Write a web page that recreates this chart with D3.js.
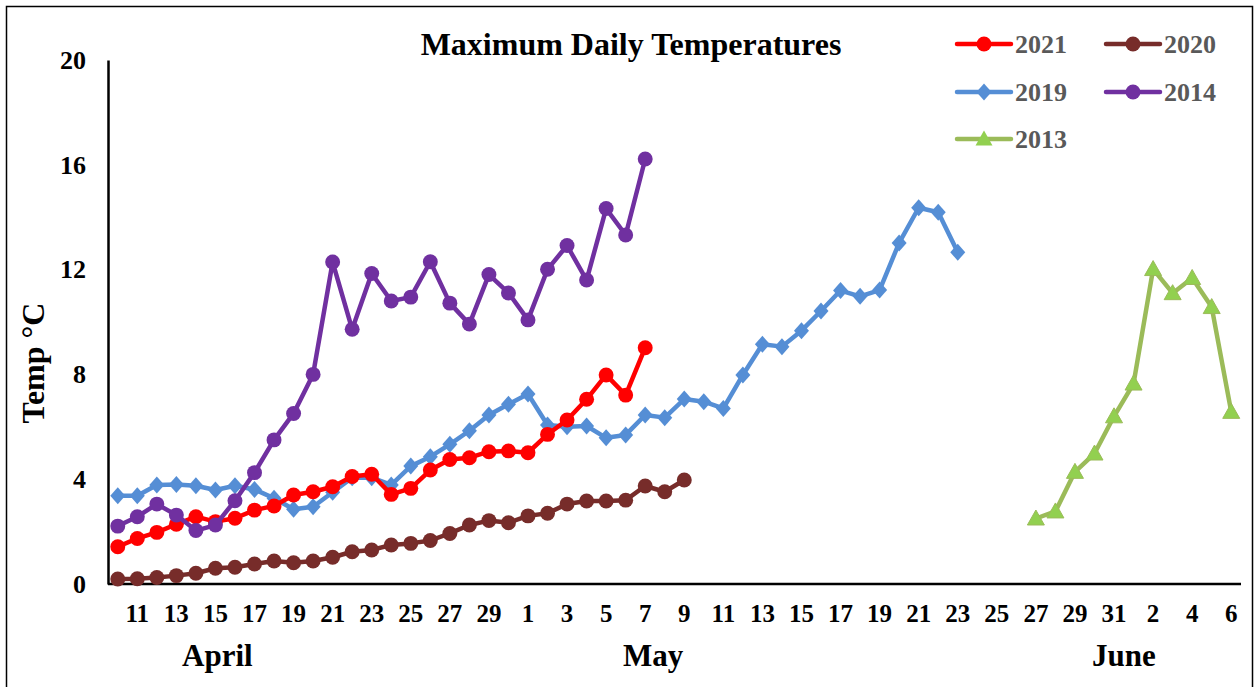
<!DOCTYPE html>
<html><head><meta charset="utf-8">
<script src="https://cdn.jsdelivr.net/npm/d3@7"></script>
<style>body{margin:0;background:#fff}svg{display:block}</style>
</head><body>
<svg id="c" width="1255" height="687"></svg>
<script>
// Categories: April 10 .. June 6
const days = [];
for (let d = 10; d <= 30; d++) days.push("Apr " + d);
for (let d = 1; d <= 31; d++) days.push("May " + d);
for (let d = 1; d <= 6; d++) days.push("Jun " + d);

const start2021 = "Apr 10";
const vals2021 = [1.42,1.74,1.97,2.28,2.57,2.38,2.51,2.82,2.98,3.40,3.52,3.71,4.10,4.19,3.42,3.65,4.35,4.75,4.82,5.05,5.08,5.01,5.71,6.26,7.05,7.98,7.21,9.02];
const start2020 = "Apr 10";
const vals2020 = [0.19,0.20,0.25,0.32,0.41,0.60,0.64,0.76,0.88,0.81,0.88,1.02,1.23,1.30,1.49,1.55,1.66,1.93,2.25,2.42,2.34,2.60,2.70,3.05,3.17,3.17,3.20,3.74,3.52,3.97];
const start2019 = "Apr 10";
const vals2019 = [3.37,3.37,3.78,3.80,3.75,3.59,3.75,3.61,3.27,2.85,2.95,3.50,4.06,4.06,3.78,4.50,4.86,5.33,5.85,6.45,6.86,7.25,6.07,6.00,6.03,5.58,5.69,6.45,6.35,7.06,6.96,6.70,7.98,9.15,9.06,9.67,10.42,11.20,10.98,11.22,13.02,14.36,14.19,12.66];
const start2014 = "Apr 10";
const vals2014 = [2.21,2.57,3.05,2.63,2.04,2.25,3.18,4.25,5.50,6.51,8.00,12.29,9.72,11.85,10.80,10.95,12.30,10.72,9.92,11.81,11.11,10.08,12.01,12.92,11.60,14.33,13.32,16.22];
const start2013 = "May 27";
const vals2013 = [2.50,2.77,4.28,4.98,6.40,7.65,12.02,11.10,11.68,10.57,6.57];

const seriesNames = ["2021","2020","2019","2014","2013"];
const yTicks = [0,4,8,12,16,20];
const monthNames = ["April","May","June"];
const monthAnchors = ["Apr 15","May 7","May 31"];
const monthShift = [0.1,0.4,0.5]; // fraction of a day

const series = [
  {name:"2021", start:start2021, values:vals2021, color:"#FF0000", mcolor:"#FF0000", marker:"circle"},
  {name:"2020", start:start2020, values:vals2020, color:"#772C2A", mcolor:"#772C2A", marker:"circle"},
  {name:"2019", start:start2019, values:vals2019, color:"#558ED5", mcolor:"#558ED5", marker:"diamond"},
  {name:"2014", start:start2014, values:vals2014, color:"#7030A0", mcolor:"#7030A0", marker:"circle"},
  {name:"2013", start:start2013, values:vals2013, color:"#9BBB59", mcolor:"#92D050", marker:"triangle"}
];

const svg = d3.select("#c");
const font = "'Liberation Serif','Times New Roman',serif";

svg.append("rect").attr("x",6.5).attr("y",6.5).attr("width",1246).attr("height",700)
  .attr("fill","none").attr("stroke","#000").attr("stroke-width",1.5);

const x = d3.scaleBand().domain(days).range([108,1241]);
const y = d3.scaleLinear().domain([0,20]).range([584,60]);
const cx = d => x(d) + x.bandwidth()/2;

// axes
const yAxis = svg.append("g").attr("transform","translate(108,0)")
  .call(d3.axisLeft(y).tickValues(yTicks).tickSize(0).tickPadding(22));
yAxis.select(".domain").attr("stroke","#000").attr("stroke-width",2.5);
yAxis.selectAll("text").attr("font-family",font).attr("font-weight","bold").attr("font-size",26).attr("fill","#000");

const xAxis = svg.append("g").attr("transform","translate(0,584)")
  .call(d3.axisBottom(x).tickValues(days.filter((d,i)=>i%2===1)).tickFormat(d=>d.split(" ")[1]).tickSize(0).tickPadding(20));
xAxis.select(".domain").attr("stroke","#000").attr("stroke-width",2.5).attr("d","M108,0H1241");
xAxis.selectAll("text").attr("font-family",font).attr("font-weight","bold").attr("font-size",25).attr("fill","#000");

// month labels
svg.selectAll("text.month").data(monthNames).join("text").attr("class","month")
  .attr("x",(d,i)=>cx(monthAnchors[i]) + monthShift[i]*x.step()).attr("y",666).attr("text-anchor","middle")
  .attr("font-family",font).attr("font-weight","bold").attr("font-size",31).text(d=>d);

// y title
svg.append("text").attr("transform","translate(44,363) rotate(-90)").attr("text-anchor","middle")
  .attr("font-family",font).attr("font-weight","bold").attr("font-size",32).text("Temp °C");

// title
svg.append("text").attr("x",631).attr("y",55).attr("text-anchor","middle")
  .attr("font-family",font).attr("font-weight","bold").attr("font-size",32).text("Maximum Daily Temperatures");

function markerPath(type){
  if(type==="circle") return d3.symbol(d3.symbolCircle, 175)();
  if(type==="diamond") return "M0,-8.5L7.5,0L0,8.5L-7.5,0Z";
  return "M0,-8.5L8.5,6.5L-8.5,6.5Z";
}

const line = d3.line().x(d=>cx(d.day)).y(d=>y(d.v));
series.forEach(s=>{
  const i0 = days.indexOf(s.start);
  s.pts = s.values.map((v,i)=>({day:days[i0+i], v}));
});
const drawOrder = ["2013","2020","2019","2021","2014"];
drawOrder.forEach(n=>{
  const s = series.find(q=>q.name===n);
  const g = svg.append("g");
  g.append("path").datum(s.pts).attr("d",line).attr("fill","none")
    .attr("stroke",s.color).attr("stroke-width",4.5).attr("stroke-linejoin","round");
  g.selectAll("path.m").data(s.pts).join("path").attr("class","m")
    .attr("d",markerPath(s.marker))
    .attr("transform",d=>`translate(${cx(d.day)},${y(d.v)})`)
    .attr("fill",s.mcolor).attr("stroke",s.marker==="triangle"?"#9BBB59":"none").attr("stroke-width",1);
});

// legend
const legendPos = [[957,44],[1106,44],[957,92],[1106,92],[957,139]];
series.forEach((s,i)=>{
  const [lx,ly] = legendPos[i];
  const g = svg.append("g");
  g.append("line").attr("x1",lx).attr("x2",lx+54).attr("y1",ly).attr("y2",ly)
    .attr("stroke",s.color).attr("stroke-width",4.5).attr("stroke-linecap","round");
  g.append("path").attr("d",markerPath(s.marker)).attr("transform",`translate(${lx+27},${ly})`).attr("fill",s.mcolor);
  g.append("text").attr("x",lx+58).attr("y",ly+9).attr("font-family",font).attr("font-weight","bold")
    .attr("font-size",26).attr("fill","#595959").text(s.name);
});
</script>
</body></html>
